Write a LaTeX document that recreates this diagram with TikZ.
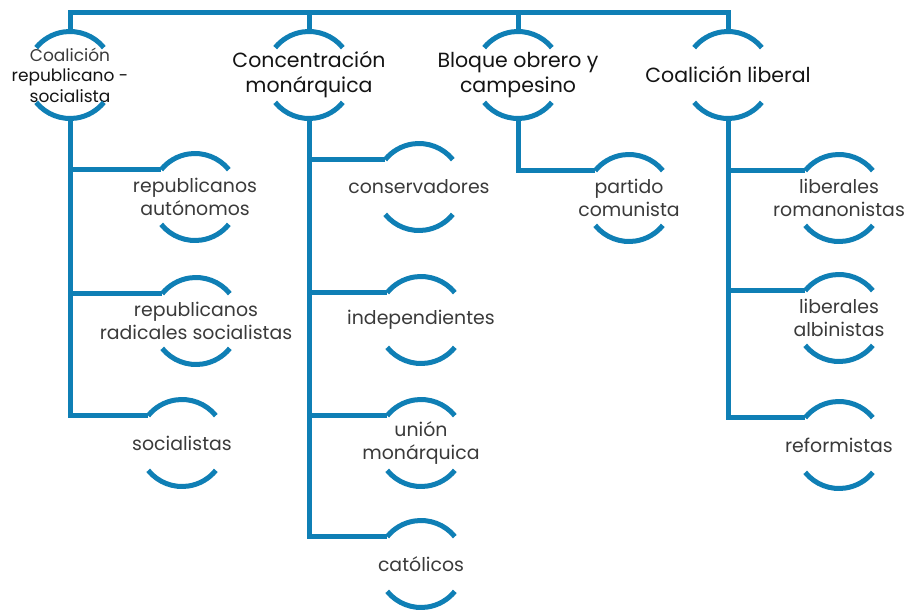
\documentclass[tikz,border=0pt]{standalone}
\usepackage{fontspec}
\setmainfont{Poppins}
\definecolor{blu}{HTML}{0F7FB5}
\definecolor{txtdark}{HTML}{141414}
\definecolor{txtgray}{HTML}{3A3A3A}
\newcommand\bubarcs[1]{%
  \draw[arcline] (#1.39) arc[start angle=39,end angle=141,radius=43.5pt];
  \draw[arcline] (#1.219) arc[start angle=219,end angle=321,radius=43.5pt];}
\begin{document}
\begin{tikzpicture}[x=1pt,y=1pt,
  bub/.style={circle, minimum size=87pt, inner sep=0pt, outer sep=0pt},
  ptxt/.style={align=center, text=txtdark, inner sep=0pt, font=\fontsize{20.5}{25}\selectfont},
  ctxt/.style={align=center, text=txtgray, inner sep=0pt, font=\fontsize{18.9}{23}\selectfont},
  arcline/.style={draw=blu, line width=5pt},
  link/.style={draw=blu, line width=5pt}]
\fill[white] (0,0) rectangle (910,-610);
\useasboundingbox (0,0) rectangle (910,-610);
% parents
\node[bub] (p1) at (70,-75) {};
\node[bub] (p2) at (309,-75) {};
\node[bub] (p3) at (518,-75) {};
\node[bub] (p4) at (728,-75) {};
\node[ptxt, font=\fontsize{17}{20.5}\selectfont] (p1t) at (p1) {{\color{txtgray}Coalición}\\republicano -\\socialista};
\node[ptxt] (p2t) at (p2) {Concentración\\monárquica};
\node[ptxt] (p3t) at (p3) {Bloque obrero y\\campesino};
\node[ptxt] (p4t) at (p4) {Coalición liberal};
% children column 1
\node[bub] (a1) at (195,-197) {};
\node[ctxt] (a1t) at (a1) {republicanos\\autónomos};
\node[bub] (a2) at (196,-321) {};
\node[ctxt] (a2t) at (a2) {republicanos\\radicales socialistas};
\node[bub] (a3) at (182,-443) {};
\node[ctxt] (a3t) at (a3) {socialistas};
% column 2
\node[bub] (b1) at (419,-187) {};
\node[ctxt] (b1t) at (b1) {conservadores};
\node[bub] (b2) at (421,-320) {};
\node[ctxt] (b2t) at (b2) {independientes};
\node[bub] (b3) at (421,-443) {};
\node[ctxt] (b3t) at (b3) {unión\\monárquica};
\node[bub] (b4) at (421,-564) {};
\node[ctxt] (b4t) at (b4) {católicos};
% column 3
\node[bub] (c1) at (629,-198) {};
\node[ctxt] (c1t) at (c1) {partido\\comunista};
% column 4
\node[bub] (d1) at (839,-198) {};
\node[ctxt] (d1t) at (d1) {liberales\\romanonistas};
\node[bub] (d2) at (839,-318) {};
\node[ctxt] (d2t) at (d2) {liberales\\albinistas};
\node[bub] (d3) at (839,-445) {};
\node[ctxt] (d3t) at (d3) {reformistas};
% arcs
\foreach \n in {p1,p2,p3,p4,a1,a2,a3,b1,b2,b3,b4,c1,d1,d2,d3} {\bubarcs{\n}}
% connectors
\coordinate (top) at (0,-13);
\draw[link] (p1.north) -- (p1.north |- top) -- (p4.north |- top) -- (p4.north);
\draw[link] (p2.north) -- (p2.north |- top);
\draw[link] (p3.north) -- (p3.north |- top);
\foreach \c in {a1,a2,a3} {\draw[link] (p1.south) |- (\c.141);}
\foreach \c in {b1,b2,b3,b4} {\draw[link] (p2.south) |- (\c.141);}
\draw[link] (p3.south) |- (c1.141);
\foreach \c in {d1,d2,d3} {\draw[link] (p4.south) |- (\c.141);}
\end{tikzpicture}
\end{document}
